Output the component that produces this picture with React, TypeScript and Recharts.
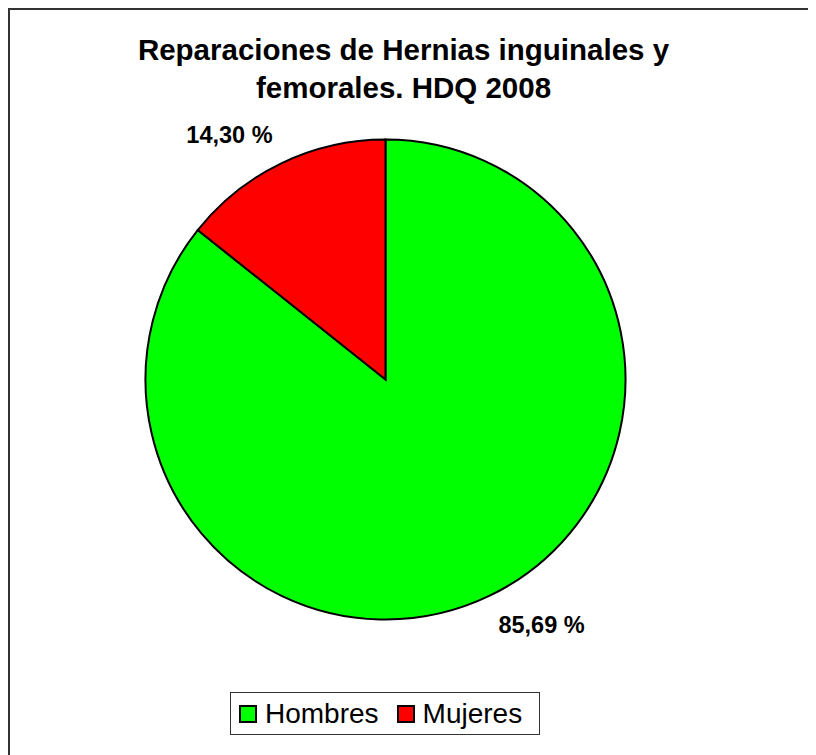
import React from 'react';
import { PieChart, Pie, Cell, Legend } from 'recharts';

const categories = ['Hombres', 'Mujeres'];
const values = [85.69, 14.3];
const valueLabels = ['85,69 %', '14,30 %'];
const colors = ['#00FF00', '#FF0000'];
const titleLines = ['Reparaciones de Hernias inguinales y', 'femorales. HDQ 2008'];

const data = categories.map((name, i) => ({ name, value: values[i] }));

const FONT = '"Liberation Sans", Arial, Helvetica, sans-serif';
const RAD = Math.PI / 180;

const renderLabel = (props: any) => {
  const { cx, cy, midAngle, outerRadius, index } = props;
  const r = outerRadius + 20;
  const c = Math.cos(-midAngle * RAD);
  const s = Math.sin(-midAngle * RAD);
  const x = cx + r * c;
  const y = cy + r * s;
  const anchor = c >= 0 ? 'start' : 'end';
  const by = s < 0 ? y - 2 : y + 19;
  return (
    <text
      x={x}
      y={by}
      textAnchor={anchor}
      fontFamily={FONT}
      fontSize={23.5}
      fontWeight="bold"
      fill="#000"
    >
      {valueLabels[index]}
    </text>
  );
};

const renderLegend = (props: any) => {
  const { payload } = props;
  return (
    <div
      style={{
        display: 'flex',
        alignItems: 'center',
        boxSizing: 'border-box',
        width: 310,
        height: 43,
        border: '1px solid #333',
        background: '#fff',
        paddingLeft: 8,
        fontFamily: FONT,
        fontSize: 28,
        lineHeight: '41px',
        color: '#000',
      }}
    >
      {(payload || []).map((entry: any, i: number) => (
        <div key={i} style={{ display: 'flex', alignItems: 'center', marginRight: i === 0 ? 18 : 0 }}>
          <span
            style={{
              display: 'inline-block',
              boxSizing: 'border-box',
              width: 18,
              height: 18,
              border: '2px solid #000',
              background: entry.color,
              marginRight: 8,
              marginTop: 1,
            }}
          />
          <span>{entry.value}</span>
        </div>
      ))}
    </div>
  );
};

export default function App() {
  return (
    <div style={{ position: 'relative', width: 808, height: 747, background: '#fff' }}>
      <style>{'html,body{overflow:hidden;}'}</style>
      <PieChart width={808} height={747} margin={{ top: 0, right: 0, bottom: 0, left: 0 }}>
        <Pie
          data={data}
          dataKey="value"
          nameKey="name"
          cx={377.5}
          cy={371.5}
          outerRadius={240}
          startAngle={90}
          endAngle={-270}
          stroke="#000"
          strokeWidth={2}
          label={renderLabel}
          labelLine={false}
          isAnimationActive={false}
        >
          {data.map((d, i) => (
            <Cell key={d.name} fill={colors[i]} stroke="#000" strokeWidth={2} />
          ))}
        </Pie>
        <Legend
          content={renderLegend}
          wrapperStyle={{ position: 'absolute', left: 222, top: 684, width: 310, height: 43, bottom: 'auto' }}
        />
      </PieChart>
      <svg
        width={808}
        height={747}
        style={{ position: 'absolute', left: 0, top: 0, pointerEvents: 'none' }}
      >
        {titleLines.map((t, i) => (
          <text
            key={i}
            x={395.5}
            y={52 + i * 38}
            textAnchor="middle"
            fontFamily={FONT}
            fontSize={29.5}
            fontWeight="bold"
            fill="#000"
          >
            {t}
          </text>
        ))}
      </svg>
      <div
        style={{
          position: 'absolute',
          left: 0,
          top: 0,
          width: 808,
          height: 747,
          boxSizing: 'border-box',
          borderTop: '2px solid #333',
          borderLeft: '2px solid #333',
          pointerEvents: 'none',
        }}
      />
    </div>
  );
}
